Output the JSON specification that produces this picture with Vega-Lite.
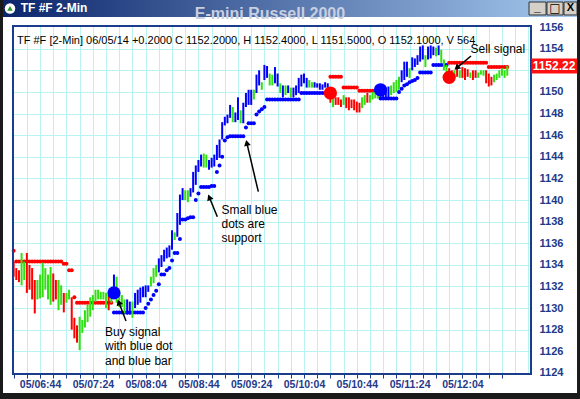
{
  "$schema": "https://vega.github.io/schema/vega-lite/v6.json",
  "autosize": {"type": "none"},
  "width": 518,
  "height": 348,
  "padding": {"left": 13, "top": 26, "right": 49, "bottom": 25},
  "background": "white",
  "config": {"view": {"stroke": null}, "font": "Liberation Sans"},
  "resolve": {"axis": {"x": "independent", "y": "independent"}},
  "datasets": {
    "bars": [
      {"t":384,"h":1134.3,"l":1132.9,"c":"d","s":1135.3,"k":"d"},
      {"t":386,"h":1133.7,"l":1132.6,"c":"d","s":1134.3,"k":"d"},
      {"t":388,"h":1133.5,"l":1132.4,"c":"d","s":1134.3,"k":"d"},
      {"t":390,"h":1135.1,"l":1132.1,"c":"u","s":1134.3,"k":"d"},
      {"t":392,"h":1134.3,"l":1132.6,"c":"u","s":1134.3,"k":"d"},
      {"t":394,"h":1135.1,"l":1131.4,"c":"d","s":1134.3,"k":"d"},
      {"t":396,"h":1134.0,"l":1131.7,"c":"d","s":1134.3,"k":"d"},
      {"t":398,"h":1133.7,"l":1130.8,"c":"d","s":1134.3,"k":"d"},
      {"t":400,"h":1132.6,"l":1129.5,"c":"d","s":1134.3,"k":"d"},
      {"t":402,"h":1132.6,"l":1130.8,"c":"u","s":1134.3,"k":"d"},
      {"t":404,"h":1133.1,"l":1130.9,"c":"u","s":1134.3,"k":"d"},
      {"t":406,"h":1134.2,"l":1131.0,"c":"u","s":1134.3,"k":"d"},
      {"t":408,"h":1133.7,"l":1131.7,"c":"u","s":1134.3,"k":"d"},
      {"t":410,"h":1133.1,"l":1130.8,"c":"u","s":1134.3,"k":"d"},
      {"t":412,"h":1133.8,"l":1130.3,"c":"u","s":1134.3,"k":"d"},
      {"t":414,"h":1133.2,"l":1130.6,"c":"d","s":1134.3,"k":"d"},
      {"t":416,"h":1132.6,"l":1130.8,"c":"d","s":1134.3,"k":"d"},
      {"t":418,"h":1132.6,"l":1129.8,"c":"u","s":1134.3,"k":"d"},
      {"t":420,"h":1132.1,"l":1130.3,"c":"u","s":1134.3,"k":"d"},
      {"t":422,"h":1131.4,"l":1129.6,"c":"d","s":1134.1,"k":"d"},
      {"t":424,"h":1131.4,"l":1130.5,"c":"u","s":1134.1,"k":"d"},
      {"t":426,"h":1131.7,"l":1130.8,"c":"u","s":1133.5,"k":"d"},
      {"t":428,"h":1131.0,"l":1128.0,"c":"d","s":1133.5,"k":"d"},
      {"t":430,"h":1129.1,"l":1127.2,"c":"d","s":1131.0,"k":"d"},
      {"t":432,"h":1128.4,"l":1126.8,"c":"d","s":1130.5,"k":"d"},
      {"t":434,"h":1129.2,"l":1126.1,"c":"u","s":1130.5,"k":"d"},
      {"t":436,"h":1128.9,"l":1127.7,"c":"u","s":1130.5,"k":"d"},
      {"t":438,"h":1129.8,"l":1128.2,"c":"u","s":1130.5,"k":"d"},
      {"t":440,"h":1130.3,"l":1128.7,"c":"u","s":1130.5,"k":"d"},
      {"t":442,"h":1131.0,"l":1129.2,"c":"u","s":1130.5,"k":"d"},
      {"t":444,"h":1131.2,"l":1129.8,"c":"u","s":1130.5,"k":"d"},
      {"t":446,"h":1131.7,"l":1130.6,"c":"u","s":1130.5,"k":"d"},
      {"t":448,"h":1131.7,"l":1130.8,"c":"u","s":1130.5,"k":"d"},
      {"t":450,"h":1131.5,"l":1130.8,"c":"u","s":1130.5,"k":"d"},
      {"t":452,"h":1131.5,"l":1130.8,"c":"u","s":1130.5,"k":"d"},
      {"t":454,"h":1131.4,"l":1130.0,"c":"u","s":1130.5,"k":"d"},
      {"t":456,"h":1131.2,"l":1129.8,"c":"d","s":1130.5,"k":"d"},
      {"t":458,"h":1131.7,"l":1130.5,"c":"u","s":1130.5,"k":"d"},
      {"t":460,"h":1133.1,"l":1130.9,"c":"b","s":1129.6,"k":"b"},
      {"t":462,"h":1132.9,"l":1130.5,"c":"u","s":1129.6,"k":"b"},
      {"t":464,"h":1131.7,"l":1130.1,"c":"u","s":1129.6,"k":"b"},
      {"t":466,"h":1131.2,"l":1130.1,"c":"u","s":1129.6,"k":"b"},
      {"t":468,"h":1130.8,"l":1129.5,"c":"u","s":1129.6,"k":"b"},
      {"t":470,"h":1130.8,"l":1129.4,"c":"b","s":1129.6,"k":"b"},
      {"t":472,"h":1130.6,"l":1129.4,"c":"b","s":1129.6,"k":"b"},
      {"t":474,"h":1130.6,"l":1129.1,"c":"u","s":1129.6,"k":"b"},
      {"t":476,"h":1131.4,"l":1130.0,"c":"b","s":1129.6,"k":"b"},
      {"t":478,"h":1131.7,"l":1130.3,"c":"b","s":1129.6,"k":"b"},
      {"t":480,"h":1131.9,"l":1130.5,"c":"b","s":1129.6,"k":"b"},
      {"t":482,"h":1132.0,"l":1131.0,"c":"b","s":1129.6,"k":"b"},
      {"t":484,"h":1132.1,"l":1131.0,"c":"b","s":1130.0,"k":"b"},
      {"t":486,"h":1132.1,"l":1131.5,"c":"b","s":1130.4,"k":"b"},
      {"t":488,"h":1132.9,"l":1132.0,"c":"u","s":1130.8,"k":"b"},
      {"t":490,"h":1133.7,"l":1132.3,"c":"u","s":1131.2,"k":"b"},
      {"t":492,"h":1134.0,"l":1132.9,"c":"u","s":1131.6,"k":"b"},
      {"t":494,"h":1134.6,"l":1133.3,"c":"b","s":1132.2,"k":"b"},
      {"t":496,"h":1134.9,"l":1133.8,"c":"b","s":1133.1,"k":"b"},
      {"t":498,"h":1135.4,"l":1134.3,"c":"b","s":1133.1,"k":"b"},
      {"t":500,"h":1135.6,"l":1134.6,"c":"b","s":1133.5,"k":"b"},
      {"t":502,"h":1135.8,"l":1134.7,"c":"b","s":1133.7,"k":"b"},
      {"t":504,"h":1137.2,"l":1135.4,"c":"b","s":1134.4,"k":"b"},
      {"t":506,"h":1137.0,"l":1136.3,"c":"u","s":1135.1,"k":"b"},
      {"t":508,"h":1138.8,"l":1136.6,"c":"b","s":1135.1,"k":"b"},
      {"t":510,"h":1140.5,"l":1137.7,"c":"b","s":1136.4,"k":"b"},
      {"t":512,"h":1141.1,"l":1140.0,"c":"b","s":1138.2,"k":"b"},
      {"t":514,"h":1140.9,"l":1140.0,"c":"u","s":1138.2,"k":"b"},
      {"t":516,"h":1140.9,"l":1139.8,"c":"u","s":1138.3,"k":"b"},
      {"t":518,"h":1141.1,"l":1140.3,"c":"b","s":1138.4,"k":"b"},
      {"t":520,"h":1142.6,"l":1140.7,"c":"b","s":1138.4,"k":"b"},
      {"t":522,"h":1143.2,"l":1141.4,"c":"b","s":1140.0,"k":"b"},
      {"t":524,"h":1143.7,"l":1142.6,"c":"b","s":1140.6,"k":"b"},
      {"t":526,"h":1144.2,"l":1143.1,"c":"b","s":1141.2,"k":"b"},
      {"t":528,"h":1144.3,"l":1143.0,"c":"u","s":1141.2,"k":"b"},
      {"t":530,"h":1144.2,"l":1143.0,"c":"u","s":1141.2,"k":"b"},
      {"t":532,"h":1143.7,"l":1142.8,"c":"b","s":1141.2,"k":"b"},
      {"t":534,"h":1143.9,"l":1143.0,"c":"b","s":1141.3,"k":"b"},
      {"t":536,"h":1144.2,"l":1143.1,"c":"b","s":1141.3,"k":"b"},
      {"t":538,"h":1145.1,"l":1143.7,"c":"b","s":1142.6,"k":"b"},
      {"t":540,"h":1145.6,"l":1143.9,"c":"b","s":1143.2,"k":"b"},
      {"t":542,"h":1147.2,"l":1145.6,"c":"b","s":1144.0,"k":"b"},
      {"t":544,"h":1147.7,"l":1146.9,"c":"b","s":1145.5,"k":"b"},
      {"t":546,"h":1147.9,"l":1147.1,"c":"b","s":1145.8,"k":"b"},
      {"t":548,"h":1148.8,"l":1147.6,"c":"b","s":1145.9,"k":"b"},
      {"t":550,"h":1148.6,"l":1147.2,"c":"u","s":1145.9,"k":"b"},
      {"t":552,"h":1148.1,"l":1147.2,"c":"b","s":1145.9,"k":"b"},
      {"t":554,"h":1149.5,"l":1147.4,"c":"b","s":1145.9,"k":"b"},
      {"t":556,"h":1148.3,"l":1147.1,"c":"u","s":1145.9,"k":"b"},
      {"t":558,"h":1149.0,"l":1147.1,"c":"b","s":1145.9,"k":"b"},
      {"t":560,"h":1149.9,"l":1148.6,"c":"b","s":1146.7,"k":"b"},
      {"t":562,"h":1150.2,"l":1148.8,"c":"b","s":1147.1,"k":"b"},
      {"t":564,"h":1150.2,"l":1148.8,"c":"b","s":1147.1,"k":"b"},
      {"t":566,"h":1150.2,"l":1149.3,"c":"u","s":1147.1,"k":"b"},
      {"t":568,"h":1151.6,"l":1149.9,"c":"b","s":1147.9,"k":"b"},
      {"t":570,"h":1152.0,"l":1150.6,"c":"b","s":1148.2,"k":"b"},
      {"t":572,"h":1150.9,"l":1150.2,"c":"u","s":1148.4,"k":"b"},
      {"t":574,"h":1152.5,"l":1151.1,"c":"b","s":1148.6,"k":"b"},
      {"t":576,"h":1152.4,"l":1151.3,"c":"b","s":1149.3,"k":"b"},
      {"t":578,"h":1151.7,"l":1150.6,"c":"u","s":1149.3,"k":"b"},
      {"t":580,"h":1151.6,"l":1150.6,"c":"u","s":1149.3,"k":"b"},
      {"t":582,"h":1152.3,"l":1150.8,"c":"b","s":1149.3,"k":"b"},
      {"t":584,"h":1151.7,"l":1150.5,"c":"b","s":1149.3,"k":"b"},
      {"t":586,"h":1150.8,"l":1149.9,"c":"u","s":1149.3,"k":"b"},
      {"t":588,"h":1150.6,"l":1149.5,"c":"b","s":1149.3,"k":"b"},
      {"t":590,"h":1150.6,"l":1149.7,"c":"u","s":1149.3,"k":"b"},
      {"t":592,"h":1150.6,"l":1149.9,"c":"b","s":1149.3,"k":"b"},
      {"t":594,"h":1150.4,"l":1149.5,"c":"u","s":1149.3,"k":"b"},
      {"t":596,"h":1150.4,"l":1149.5,"c":"b","s":1149.3,"k":"b"},
      {"t":598,"h":1150.6,"l":1149.7,"c":"b","s":1149.3,"k":"b"},
      {"t":600,"h":1151.3,"l":1149.9,"c":"b","s":1149.3,"k":"b"},
      {"t":602,"h":1151.6,"l":1150.5,"c":"b","s":1149.9,"k":"b"},
      {"t":604,"h":1151.7,"l":1150.8,"c":"b","s":1149.9,"k":"b"},
      {"t":606,"h":1151.3,"l":1150.4,"c":"b","s":1149.9,"k":"b"},
      {"t":608,"h":1151.1,"l":1150.4,"c":"u","s":1149.9,"k":"b"},
      {"t":610,"h":1150.9,"l":1150.4,"c":"u","s":1149.9,"k":"b"},
      {"t":612,"h":1150.9,"l":1150.4,"c":"b","s":1149.9,"k":"b"},
      {"t":614,"h":1150.8,"l":1150.4,"c":"b","s":1149.9,"k":"b"},
      {"t":616,"h":1150.8,"l":1150.2,"c":"b","s":1149.9,"k":"b"},
      {"t":618,"h":1150.7,"l":1150.2,"c":"b","s":1149.9,"k":"b"},
      {"t":620,"h":1150.9,"l":1150.4,"c":"b","s":1149.9,"k":"b"},
      {"t":622,"h":1150.8,"l":1150.0,"c":"b","s":1149.9,"k":"b"},
      {"t":624,"h":1150.0,"l":1149.0,"c":"d","s":1151.4,"k":"d"},
      {"t":626,"h":1149.5,"l":1148.6,"c":"u","s":1151.4,"k":"d"},
      {"t":628,"h":1149.5,"l":1148.8,"c":"d","s":1151.4,"k":"d"},
      {"t":630,"h":1149.5,"l":1148.8,"c":"d","s":1151.4,"k":"d"},
      {"t":632,"h":1149.3,"l":1148.6,"c":"d","s":1151.4,"k":"d"},
      {"t":634,"h":1149.7,"l":1148.8,"c":"u","s":1150.4,"k":"d"},
      {"t":636,"h":1149.5,"l":1148.5,"c":"d","s":1150.4,"k":"d"},
      {"t":638,"h":1149.5,"l":1148.3,"c":"d","s":1150.4,"k":"d"},
      {"t":640,"h":1149.3,"l":1148.5,"c":"d","s":1150.4,"k":"d"},
      {"t":642,"h":1149.3,"l":1148.3,"c":"d","s":1150.4,"k":"d"},
      {"t":644,"h":1149.1,"l":1148.1,"c":"d","s":1150.4,"k":"d"},
      {"t":646,"h":1149.0,"l":1148.1,"c":"d","s":1150.1,"k":"d"},
      {"t":648,"h":1149.5,"l":1148.5,"c":"u","s":1150.1,"k":"d"},
      {"t":650,"h":1149.7,"l":1148.8,"c":"u","s":1150.1,"k":"d"},
      {"t":652,"h":1149.9,"l":1149.0,"c":"d","s":1150.1,"k":"d"},
      {"t":654,"h":1149.7,"l":1149.0,"c":"u","s":1150.1,"k":"d"},
      {"t":656,"h":1150.0,"l":1149.3,"c":"u","s":1150.1,"k":"d"},
      {"t":658,"h":1150.2,"l":1149.4,"c":"u","s":1150.1,"k":"d"},
      {"t":660,"h":1150.2,"l":1149.4,"c":"u","s":1150.1,"k":"d"},
      {"t":662,"h":1150.6,"l":1149.5,"c":"b","s":1149.4,"k":"b"},
      {"t":664,"h":1150.4,"l":1149.5,"c":"b","s":1149.4,"k":"b"},
      {"t":666,"h":1150.4,"l":1149.4,"c":"b","s":1149.4,"k":"b"},
      {"t":668,"h":1150.5,"l":1149.5,"c":"b","s":1149.4,"k":"b"},
      {"t":670,"h":1150.6,"l":1149.7,"c":"u","s":1149.4,"k":"b"},
      {"t":672,"h":1150.9,"l":1149.9,"c":"u","s":1149.4,"k":"b"},
      {"t":674,"h":1151.1,"l":1150.0,"c":"u","s":1149.4,"k":"b"},
      {"t":676,"h":1151.4,"l":1150.2,"c":"u","s":1150.0,"k":"b"},
      {"t":678,"h":1152.0,"l":1150.9,"c":"b","s":1150.3,"k":"b"},
      {"t":680,"h":1152.8,"l":1151.1,"c":"b","s":1150.6,"k":"b"},
      {"t":682,"h":1152.8,"l":1151.4,"c":"b","s":1150.7,"k":"b"},
      {"t":684,"h":1152.2,"l":1151.3,"c":"u","s":1150.9,"k":"b"},
      {"t":686,"h":1153.2,"l":1152.0,"c":"b","s":1151.0,"k":"b"},
      {"t":688,"h":1153.1,"l":1152.3,"c":"b","s":1151.1,"k":"b"},
      {"t":690,"h":1153.4,"l":1152.5,"c":"b","s":1151.3,"k":"b"},
      {"t":692,"h":1154.2,"l":1152.8,"c":"b","s":1151.8,"k":"b"},
      {"t":694,"h":1154.3,"l":1153.0,"c":"b","s":1151.8,"k":"b"},
      {"t":696,"h":1153.4,"l":1152.3,"c":"u","s":1151.8,"k":"b"},
      {"t":698,"h":1154.2,"l":1153.0,"c":"b","s":1151.8,"k":"b"},
      {"t":700,"h":1154.3,"l":1153.1,"c":"b","s":1151.8,"k":"b"},
      {"t":702,"h":1154.2,"l":1153.4,"c":"b","s":1152.5,"k":"b"},
      {"t":704,"h":1154.1,"l":1153.3,"c":"u","s":1152.5,"k":"b"},
      {"t":706,"h":1154.3,"l":1153.4,"c":"b","s":1152.5,"k":"b"},
      {"t":708,"h":1153.9,"l":1152.7,"c":"u","s":1152.5,"k":"b"},
      {"t":710,"h":1153.0,"l":1152.0,"c":"u","s":1152.5,"k":"b"},
      {"t":712,"h":1152.5,"l":1151.4,"c":"u","s":1152.5,"k":"b"},
      {"t":714,"h":1152.2,"l":1151.3,"c":"d","s":1152.7,"k":"d"},
      {"t":716,"h":1152.0,"l":1151.3,"c":"d","s":1152.7,"k":"d"},
      {"t":718,"h":1152.0,"l":1151.4,"c":"u","s":1152.7,"k":"d"},
      {"t":720,"h":1152.5,"l":1151.4,"c":"d","s":1152.7,"k":"d"},
      {"t":722,"h":1152.0,"l":1151.3,"c":"u","s":1152.7,"k":"d"},
      {"t":724,"h":1152.3,"l":1151.3,"c":"d","s":1152.7,"k":"d"},
      {"t":726,"h":1152.2,"l":1151.1,"c":"d","s":1152.7,"k":"d"},
      {"t":728,"h":1152.1,"l":1151.4,"c":"d","s":1152.7,"k":"d"},
      {"t":730,"h":1151.8,"l":1151.3,"c":"u","s":1152.7,"k":"d"},
      {"t":732,"h":1152.0,"l":1151.1,"c":"d","s":1152.7,"k":"d"},
      {"t":734,"h":1152.0,"l":1151.3,"c":"d","s":1152.7,"k":"d"},
      {"t":736,"h":1151.8,"l":1151.3,"c":"u","s":1152.7,"k":"d"},
      {"t":738,"h":1152.0,"l":1151.6,"c":"u","s":1152.7,"k":"d"},
      {"t":740,"h":1152.0,"l":1151.5,"c":"u","s":1152.7,"k":"d"},
      {"t":742,"h":1152.0,"l":1150.8,"c":"d","s":1152.7,"k":"d"},
      {"t":744,"h":1151.7,"l":1150.5,"c":"d","s":1152.3,"k":"d"},
      {"t":746,"h":1151.4,"l":1150.6,"c":"d","s":1152.3,"k":"d"},
      {"t":748,"h":1151.6,"l":1150.9,"c":"u","s":1152.3,"k":"d"},
      {"t":750,"h":1151.7,"l":1151.1,"c":"u","s":1152.3,"k":"d"},
      {"t":752,"h":1152.0,"l":1151.3,"c":"u","s":1152.3,"k":"d"},
      {"t":754,"h":1152.2,"l":1151.5,"c":"u","s":1152.3,"k":"d"},
      {"t":756,"h":1152.0,"l":1151.3,"c":"u","s":1152.3,"k":"d"},
      {"t":758,"h":1152.4,"l":1151.5,"c":"u","s":1152.3,"k":"d"}
    ],
    "sig": [
      {"t":460,"p":1131.4,"k":"b"},
      {"t":624,"p":1149.9,"k":"d"},
      {"t":662,"p":1150.2,"k":"b"},
      {"t":714,"p":1151.35,"k":"d"}
    ]
  },
  "layer": [
    {
      "data": {"name": "bars"},
      "mark": {"type": "point", "filled": true, "size": 16, "opacity": 1},
      "encoding": {
        "x": {"field": "t", "type": "quantitative",
          "scale": {"domain": [383.5, 776], "nice": false, "zero": false},
          "axis": {"title": null, "orient": "top",
            "values": [394,404,414,424,434,444,454,464,474,484,494,504,514,524,534,544,554,564,574,584,594,604,614,624,634,644,654,664,674,684,694,704,714,724,734,744,754,764,774],
            "domain": false, "ticks": false, "labels": false,
            "grid": true, "gridColor": "#b8f2f2", "gridWidth": 1}},
        "y": {"field": "s", "type": "quantitative",
          "scale": {"domain": [1123.9, 1156.1], "nice": false, "zero": false},
          "axis": {"title": null, "orient": "left",
            "values": [1126,1128,1130,1132,1134,1136,1138,1140,1142,1144,1146,1148,1150,1152,1154],
            "domain": false, "ticks": false, "labels": false,
            "grid": true, "gridColor": "#b8f2f2", "gridWidth": 1}},
        "color": {"field": "k", "type": "nominal",
          "scale": {"domain": ["u", "d", "b"], "range": ["#30e010", "#ff0000", "#0000ff"]}, "legend": null}
      }
    },
    {
      "data": {"name": "bars"},
      "mark": {"type": "rule", "strokeWidth": 2},
      "encoding": {
        "x": {"field": "t", "type": "quantitative",
          "axis": {"title": null, "orient": "bottom",
            "values": [384,394,404,414,424,434,444,454,464,474,484,494,504,514,524,534,544,554,564,574,584,594,604,614,624,634,644,654,664,674,684,694,704,714,724,734,744,754],
            "domain": false, "ticks": true, "tickSize": 4, "tickColor": "#1e3a8a", "tickWidth": 1,
            "grid": false,
            "labelExpr": "((datum.value - 404) % 40 == 0 && datum.value <= 724) ? '05/' + (floor(datum.value/60) < 10 ? '0' : '') + floor(datum.value/60) + ':' + ((datum.value % 60) < 10 ? '0' : '') + (datum.value % 60) : ''",
            "labelFont": "Liberation Sans", "labelFontSize": 10.5, "labelFontWeight": "bold", "labelColor": "#1e3a8a",
            "labelPadding": 1, "labelFlush": false, "labelOverlap": false, "labelBound": false}},
        "y": {"field": "h", "type": "quantitative",
          "axis": {"title": null, "orient": "right",
            "values": [1124,1126,1128,1130,1132,1134,1136,1138,1140,1142,1144,1146,1148,1150,1154,1156],
            "format": "d", "domain": false, "ticks": false, "labelPadding": 8, "grid": false,
            "labelFont": "Liberation Sans", "labelFontSize": 11, "labelFontWeight": "bold", "labelColor": "#1e3a8a",
            "labelAlign": "left", "labelBaseline": "middle", "labelFlush": false, "labelOverlap": false, "labelBound": false}},
        "y2": {"field": "l"},
        "color": {"field": "c", "type": "nominal", "legend": null}
      }
    },
    {
      "data": {"name": "sig"},
      "mark": {"type": "point", "filled": true, "size": 175, "opacity": 1},
      "encoding": {
        "x": {"field": "t", "type": "quantitative", "axis": null},
        "y": {"field": "p", "type": "quantitative", "axis": null},
        "color": {"field": "k", "type": "nominal", "legend": null}
      }
    },
    {
      "data": {"values": [{}]},
      "mark": {"type": "rect", "fillOpacity": 0, "stroke": "#1a3c8c", "strokeWidth": 2},
      "encoding": {
        "x": {"datum": 383.5, "type": "quantitative", "axis": null},
        "x2": {"datum": 776},
        "y": {"datum": 1123.9, "type": "quantitative", "axis": null},
        "y2": {"datum": 1156.1}
      }
    },
    {
      "data": {"values": [{}]},
      "mark": {"type": "rect", "fill": {"gradient": "linear", "x1": 0, "y1": 0, "x2": 1, "y2": 0, "stops": [{"offset": 0, "color": "#0a246a"}, {"offset": 1, "color": "#a6caf0"}]}},
      "encoding": {
        "x": {"datum": 373.65, "type": "quantitative", "axis": null},
        "x2": {"datum": 813.14},
        "y": {"datum": 1158.51, "type": "quantitative", "axis": null},
        "y2": {"datum": 1156.93}
      }
    },
    {
      "data": {"values": [{}]},
      "mark": {"type": "point", "filled": true, "size": 110, "color": "#ffffff", "opacity": 1},
      "encoding": {
        "x": {"datum": 381.23, "type": "quantitative", "axis": null},
        "y": {"datum": 1157.72, "type": "quantitative", "axis": null}
      }
    },
    {
      "data": {"values": [{}]},
      "mark": {"type": "point", "shape": "triangle-up", "filled": true, "size": 30, "color": "#2a9d2a", "opacity": 1},
      "encoding": {
        "x": {"datum": 381.23, "type": "quantitative", "axis": null},
        "y": {"datum": 1157.72, "type": "quantitative", "axis": null}
      }
    },
    {
      "data": {"values": [{}]},
      "mark": {"type": "text", "text": "TF #F 2-Min", "align": "left", "baseline": "middle", "font": "Liberation Sans", "fontSize": 12, "fontWeight": "bold", "color": "#ffffff"},
      "encoding": {
        "x": {"datum": 389.33, "type": "quantitative", "axis": null},
        "y": {"datum": 1157.77, "type": "quantitative", "axis": null}
      }
    },
    {
      "data": {"values": [{}]},
      "mark": {"type": "text", "text": "E-mini Russell 2000", "align": "center", "baseline": "alphabetic", "font": "Liberation Sans", "fontSize": 16, "fontWeight": "bold", "color": "#c8cfe0"},
      "encoding": {
        "x": {"datum": 578.24, "type": "quantitative", "axis": null},
        "y": {"datum": 1156.75, "type": "quantitative", "axis": null}
      }
    },
    {
      "data": {"values": [{}]},
      "mark": {"type": "rect", "fill": "#d4d0c8", "stroke": "#303030", "strokeWidth": 1},
      "encoding": {
        "x": {"datum": 774.5, "type": "quantitative", "axis": null},
        "x2": {"datum": 787.4},
        "y": {"datum": 1158.32, "type": "quantitative", "axis": null},
        "y2": {"datum": 1157.12}
      }
    },
    {
      "data": {"values": [{}]},
      "mark": {"type": "rect", "fill": "#d4d0c8", "stroke": "#303030", "strokeWidth": 1},
      "encoding": {
        "x": {"datum": 788.1, "type": "quantitative", "axis": null},
        "x2": {"datum": 800.3},
        "y": {"datum": 1158.32, "type": "quantitative", "axis": null},
        "y2": {"datum": 1157.12}
      }
    },
    {
      "data": {"values": [{}]},
      "mark": {"type": "rect", "fill": "#d4d0c8", "stroke": "#303030", "strokeWidth": 1},
      "encoding": {
        "x": {"datum": 801.0, "type": "quantitative", "axis": null},
        "x2": {"datum": 810.9},
        "y": {"datum": 1158.32, "type": "quantitative", "axis": null},
        "y2": {"datum": 1157.12}
      }
    },
    {
      "data": {"values": [{}]},
      "mark": {"type": "text", "text": "_", "align": "center", "baseline": "middle", "font": "Liberation Sans", "fontSize": 12, "fontWeight": "bold", "color": "#000000"},
      "encoding": {
        "x": {"datum": 780.9, "type": "quantitative", "axis": null},
        "y": {"datum": 1157.85, "type": "quantitative", "axis": null}
      }
    },
    {
      "data": {"values": [{}]},
      "mark": {"type": "text", "text": "□", "align": "center", "baseline": "middle", "font": "DejaVu Sans", "fontSize": 12, "fontWeight": "bold", "color": "#000000"},
      "encoding": {
        "x": {"datum": 794.2, "type": "quantitative", "axis": null},
        "y": {"datum": 1157.72, "type": "quantitative", "axis": null}
      }
    },
    {
      "data": {"values": [{}]},
      "mark": {"type": "text", "text": "X", "align": "center", "baseline": "middle", "font": "Liberation Sans", "fontSize": 11, "fontWeight": "bold", "color": "#000000"},
      "encoding": {
        "x": {"datum": 805.9, "type": "quantitative", "axis": null},
        "y": {"datum": 1157.72, "type": "quantitative", "axis": null}
      }
    },
    {
      "data": {"values": [{}]},
      "mark": {"type": "rect", "fill": "#1a1a1a"},
      "encoding": {
        "x": {"datum": 360, "type": "quantitative", "axis": null},
        "x2": {"datum": 375.92},
        "y": {"datum": 1100, "type": "quantitative", "axis": null},
        "y2": {"datum": 1170}
      }
    },
    {
      "data": {"values": [{}]},
      "mark": {"type": "rect", "fill": "#1a1a1a"},
      "encoding": {
        "x": {"datum": 810.87, "type": "quantitative", "axis": null},
        "x2": {"datum": 830},
        "y": {"datum": 1100, "type": "quantitative", "axis": null},
        "y2": {"datum": 1170}
      }
    },
    {
      "data": {"values": [{}]},
      "mark": {"type": "rect", "fill": "#1a1a1a"},
      "encoding": {
        "x": {"datum": 360, "type": "quantitative", "axis": null},
        "x2": {"datum": 830},
        "y": {"datum": 1122.14, "type": "quantitative", "axis": null},
        "y2": {"datum": 1100}
      }
    },
    {
      "data": {"values": [{}]},
      "mark": {"type": "text", "text": "TF #F [2-Min] 06/05/14  +0.2000 C 1152.2000, H 1152.4000, L 1151.5000, O 1152.1000, V 564", "align": "left", "baseline": "middle", "font": "Liberation Sans", "fontSize": 11, "color": "#000000"},
      "encoding": {
        "x": {"datum": 386.53, "type": "quantitative", "axis": null},
        "y": {"datum": 1154.71, "type": "quantitative", "axis": null}
      }
    },
    {
      "data": {"values": [{}]},
      "mark": {"type": "rect", "fill": "#ff1010"},
      "encoding": {
        "x": {"datum": 776.4, "type": "quantitative", "axis": null},
        "x2": {"datum": 810.87},
        "y": {"datum": 1153.09, "type": "quantitative", "axis": null},
        "y2": {"datum": 1151.71}
      }
    },
    {
      "data": {"values": [{}]},
      "mark": {"type": "text", "text": "1152.22", "align": "center", "baseline": "middle", "font": "Liberation Sans", "fontSize": 12, "fontWeight": "bold", "color": "#ffffff"},
      "encoding": {
        "x": {"datum": 793.44, "type": "quantitative", "axis": null},
        "y": {"datum": 1152.4, "type": "quantitative", "axis": null}
      }
    },
    {
      "data": {"values": [{}]},
      "mark": {"type": "text", "text": ["Buy signal", "with blue dot", "and blue bar"], "lineHeight": 14.5, "align": "left", "baseline": "middle", "font": "Liberation Sans", "fontSize": 12, "color": "#000000"},
      "encoding": {
        "x": {"datum": 453.21, "type": "quantitative", "axis": null},
        "y": {"datum": 1127.81, "type": "quantitative", "axis": null}
      }
    },
    {
      "data": {"values": [{}]},
      "mark": {"type": "text", "text": ["Small blue", "dots are", "support"], "lineHeight": 14.2, "align": "left", "baseline": "middle", "font": "Liberation Sans", "fontSize": 12, "color": "#000000"},
      "encoding": {
        "x": {"datum": 541.49, "type": "quantitative", "axis": null},
        "y": {"datum": 1139.07, "type": "quantitative", "axis": null}
      }
    },
    {
      "data": {"values": [{}]},
      "mark": {"type": "text", "text": "Sell signal", "align": "left", "baseline": "middle", "font": "Liberation Sans", "fontSize": 12, "color": "#000000"},
      "encoding": {
        "x": {"datum": 730.17, "type": "quantitative", "axis": null},
        "y": {"datum": 1153.97, "type": "quantitative", "axis": null}
      }
    },
    {
      "data": {"values": [{}]},
      "mark": {"type": "rule", "color": "#000000", "strokeWidth": 1.5},
      "encoding": {
        "x": {"datum": 469.13, "type": "quantitative", "axis": null},
        "y": {"datum": 1128.8, "type": "quantitative", "axis": null},
        "x2": {"datum": 463.67},
        "y2": {"datum": 1130.53}
      }
    },
    {
      "data": {"values": [{}]},
      "mark": {"type": "point", "shape": "triangle-up", "filled": true, "size": 45, "angle": 339, "color": "#000000", "opacity": 1},
      "encoding": {
        "x": {"datum": 463.67, "type": "quantitative", "axis": null},
        "y": {"datum": 1130.53, "type": "quantitative", "axis": null}
      }
    },
    {
      "data": {"values": [{}]},
      "mark": {"type": "rule", "color": "#000000", "strokeWidth": 1.5},
      "encoding": {
        "x": {"datum": 538.31, "type": "quantitative", "axis": null},
        "y": {"datum": 1138.45, "type": "quantitative", "axis": null},
        "x2": {"datum": 532.25},
        "y2": {"datum": 1140.26}
      }
    },
    {
      "data": {"values": [{}]},
      "mark": {"type": "point", "shape": "triangle-up", "filled": true, "size": 45, "angle": 338, "color": "#000000", "opacity": 1},
      "encoding": {
        "x": {"datum": 532.25, "type": "quantitative", "axis": null},
        "y": {"datum": 1140.26, "type": "quantitative", "axis": null}
      }
    },
    {
      "data": {"values": [{}]},
      "mark": {"type": "rule", "color": "#000000", "strokeWidth": 1.5},
      "encoding": {
        "x": {"datum": 569.38, "type": "quantitative", "axis": null},
        "y": {"datum": 1140.77, "type": "quantitative", "axis": null},
        "x2": {"datum": 560.66},
        "y2": {"datum": 1145.28}
      }
    },
    {
      "data": {"values": [{}]},
      "mark": {"type": "point", "shape": "triangle-up", "filled": true, "size": 45, "angle": 347, "color": "#000000", "opacity": 1},
      "encoding": {
        "x": {"datum": 560.66, "type": "quantitative", "axis": null},
        "y": {"datum": 1145.28, "type": "quantitative", "axis": null}
      }
    },
    {
      "data": {"values": [{}]},
      "mark": {"type": "rule", "color": "#000000", "strokeWidth": 1.5},
      "encoding": {
        "x": {"datum": 730.55, "type": "quantitative", "axis": null},
        "y": {"datum": 1153.32, "type": "quantitative", "axis": null},
        "x2": {"datum": 719.71},
        "y2": {"datum": 1152.23}
      }
    },
    {
      "data": {"values": [{}]},
      "mark": {"type": "point", "shape": "triangle-up", "filled": true, "size": 45, "angle": 230, "color": "#000000", "opacity": 1},
      "encoding": {
        "x": {"datum": 719.71, "type": "quantitative", "axis": null},
        "y": {"datum": 1152.23, "type": "quantitative", "axis": null}
      }
    }
  ]
}
